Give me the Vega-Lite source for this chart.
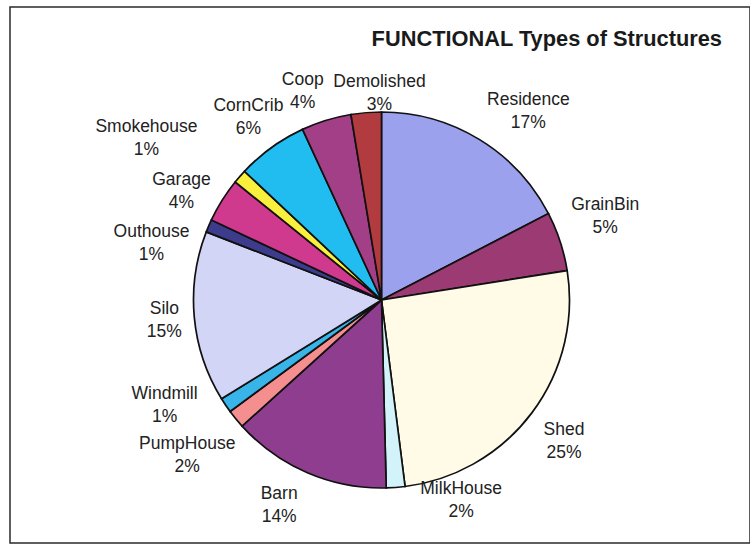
{
  "$schema": "https://vega.github.io/schema/vega-lite/v6.json",
  "width": 740,
  "height": 536,
  "autosize": "none",
  "padding": {"left": 10, "top": 7, "right": 0, "bottom": 2},
  "background": "white",
  "view": {"stroke": "#2a2a2a", "strokeWidth": 1.5, "fill": "white"},
  "config": {"view": {"stroke": "#2a2a2a", "strokeWidth": 1.5}, "font": "Liberation Sans"},
  "title": {
    "text": "FUNCTIONAL Types of Structures",
    "anchor": "end",
    "frame": "group",
    "orient": "top",
    "offset": -61,
    "dx": -28,
    "baseline": "alphabetic",
    "font": "Liberation Sans",
    "fontSize": 21.8,
    "fontWeight": "bold",
    "color": "#1a1a1a"
  },
  "data": {
    "values": [
      {"type": "Residence", "share": 17.4, "pct": "17%"},
      {"type": "GrainBin", "share": 5.1, "pct": "5%"},
      {"type": "Shed", "share": 25.5, "pct": "25%"},
      {"type": "MilkHouse", "share": 1.6, "pct": "2%"},
      {"type": "Barn", "share": 13.7, "pct": "14%"},
      {"type": "PumpHouse", "share": 1.6, "pct": "2%"},
      {"type": "Windmill", "share": 1.3, "pct": "1%"},
      {"type": "Silo", "share": 14.7, "pct": "15%"},
      {"type": "Outhouse", "share": 1.1, "pct": "1%"},
      {"type": "Garage", "share": 3.8, "pct": "4%"},
      {"type": "Smokehouse", "share": 1.2, "pct": "1%"},
      {"type": "CornCrib", "share": 6.1, "pct": "6%"},
      {"type": "Coop", "share": 4.3, "pct": "4%"},
      {"type": "Demolished", "share": 2.6, "pct": "3%"}
    ]
  },
  "transform": [
    {"stack": "share", "groupby": [], "as": ["s0", "s1"]},
    {"calculate": "(datum.s0 + datum.s1) / 2", "as": "mid"},
    {"calculate": "datum.type + '\\n' + datum.pct", "as": "label"}
  ],
  "layer": [
    {
      "mark": {"type": "arc", "outerRadius": 188, "stroke": "#111111", "strokeWidth": 1.7, "x": {"expr": "width/2 + 1.5"}, "y": {"expr": "height/2 + 25"}},
      "encoding": {
        "theta": {"field": "s0", "type": "quantitative", "stack": null, "scale": {"domain": [0, 100]}},
        "theta2": {"field": "s1"},
        "color": {
          "field": "type",
          "type": "nominal",
          "legend": null,
          "scale": {
            "domain": ["Residence", "GrainBin", "Shed", "MilkHouse", "Barn", "PumpHouse", "Windmill", "Silo", "Outhouse", "Garage", "Smokehouse", "CornCrib", "Coop", "Demolished"],
            "range": ["#9ba1ec", "#9b3a73", "#fffbe6", "#d2f3fa", "#8f3d8f", "#f58e8e", "#38b4e8", "#d3d5f7", "#3d3c8c", "#cf3a8e", "#f8f03c", "#22bdf0", "#a33f86", "#b23b3f"]
          }
        }
      }
    },
    {
      "transform": [{"filter": "datum.type === 'Residence'"}],
      "mark": {"type": "text", "fontSize": 17.5, "lineBreak": "\n", "lineHeight": 23, "dy": -10.5, "fill": "#222222", "x": {"expr": "width/2 + 1.5"}, "y": {"expr": "height/2 + 25"}, "radius": 240, "thetaOffset": 0.112},
      "encoding": {"theta": {"field": "mid", "type": "quantitative", "stack": null, "scale": {"domain": [0, 100]}}, "text": {"field": "label"}}
    },
    {
      "transform": [{"filter": "datum.type === 'GrainBin'"}],
      "mark": {"type": "text", "fontSize": 17.5, "lineBreak": "\n", "lineHeight": 23, "dy": -10.5, "fill": "#222222", "x": {"expr": "width/2 + 1.5"}, "y": {"expr": "height/2 + 25"}, "radius": 239, "thetaOffset": -0.042},
      "encoding": {"theta": {"field": "mid", "type": "quantitative", "stack": null, "scale": {"domain": [0, 100]}}, "text": {"field": "label"}}
    },
    {
      "transform": [{"filter": "datum.type === 'Shed' || datum.type === 'CornCrib'"}],
      "mark": {"type": "text", "fontSize": 17.5, "lineBreak": "\n", "lineHeight": 23, "dy": -8, "fill": "#222222", "x": {"expr": "width/2 + 1.5"}, "y": {"expr": "height/2 + 25"}, "radius": 229, "thetaOffset": 0.005},
      "encoding": {"theta": {"field": "mid", "type": "quantitative", "stack": null, "scale": {"domain": [0, 100]}}, "text": {"field": "label"}}
    },
    {
      "transform": [{"filter": "datum.type === 'MilkHouse'"}],
      "mark": {"type": "text", "fontSize": 17.5, "lineBreak": "\n", "lineHeight": 23, "dy": -10.5, "fill": "#222222", "x": {"expr": "width/2 + 1.5"}, "y": {"expr": "height/2 + 25"}, "radius": 215, "thetaOffset": -0.304},
      "encoding": {"theta": {"field": "mid", "type": "quantitative", "stack": null, "scale": {"domain": [0, 100]}}, "text": {"field": "label"}}
    },
    {
      "transform": [{"filter": "datum.type === 'Barn'"}],
      "mark": {"type": "text", "fontSize": 17.5, "lineBreak": "\n", "lineHeight": 23, "dy": -10.5, "fill": "#222222", "x": {"expr": "width/2 + 1.5"}, "y": {"expr": "height/2 + 25"}, "radius": 229, "thetaOffset": 0.058},
      "encoding": {"theta": {"field": "mid", "type": "quantitative", "stack": null, "scale": {"domain": [0, 100]}}, "text": {"field": "label"}}
    },
    {
      "transform": [{"filter": "datum.type === 'PumpHouse'"}],
      "mark": {"type": "text", "fontSize": 17.5, "lineBreak": "\n", "lineHeight": 23, "dy": -10.5, "fill": "#222222", "x": {"expr": "width/2 + 1.5"}, "y": {"expr": "height/2 + 25"}, "radius": 248, "thetaOffset": 0.014},
      "encoding": {"theta": {"field": "mid", "type": "quantitative", "stack": null, "scale": {"domain": [0, 100]}}, "text": {"field": "label"}}
    },
    {
      "transform": [{"filter": "datum.type === 'Windmill'"}],
      "mark": {"type": "text", "fontSize": 17.5, "lineBreak": "\n", "lineHeight": 23, "dy": -10.5, "fill": "#222222", "x": {"expr": "width/2 + 1.5"}, "y": {"expr": "height/2 + 25"}, "radius": 241, "thetaOffset": 0.143},
      "encoding": {"theta": {"field": "mid", "type": "quantitative", "stack": null, "scale": {"domain": [0, 100]}}, "text": {"field": "label"}}
    },
    {
      "transform": [{"filter": "datum.type === 'Silo'"}],
      "mark": {"type": "text", "fontSize": 17.5, "lineBreak": "\n", "lineHeight": 23, "dy": -10.5, "fill": "#222222", "x": {"expr": "width/2 + 1.5"}, "y": {"expr": "height/2 + 25"}, "radius": 218, "thetaOffset": 0.003},
      "encoding": {"theta": {"field": "mid", "type": "quantitative", "stack": null, "scale": {"domain": [0, 100]}}, "text": {"field": "label"}}
    },
    {
      "transform": [{"filter": "datum.type === 'Outhouse'"}],
      "mark": {"type": "text", "fontSize": 17.5, "lineBreak": "\n", "lineHeight": 23, "dy": -10.5, "fill": "#222222", "x": {"expr": "width/2 + 1.5"}, "y": {"expr": "height/2 + 25"}, "radius": 237, "thetaOffset": -0.162},
      "encoding": {"theta": {"field": "mid", "type": "quantitative", "stack": null, "scale": {"domain": [0, 100]}}, "text": {"field": "label"}}
    },
    {
      "transform": [{"filter": "datum.type === 'Garage'"}],
      "mark": {"type": "text", "fontSize": 17.5, "lineBreak": "\n", "lineHeight": 23, "dy": -10.5, "fill": "#222222", "x": {"expr": "width/2 + 1.5"}, "y": {"expr": "height/2 + 25"}, "radius": 228, "thetaOffset": -0.059},
      "encoding": {"theta": {"field": "mid", "type": "quantitative", "stack": null, "scale": {"domain": [0, 100]}}, "text": {"field": "label"}}
    },
    {
      "transform": [{"filter": "datum.type === 'Smokehouse'"}],
      "mark": {"type": "text", "fontSize": 17.5, "lineBreak": "\n", "lineHeight": 23, "dy": -10.5, "fill": "#222222", "x": {"expr": "width/2 + 1.5"}, "y": {"expr": "height/2 + 25"}, "radius": 286, "thetaOffset": -0.110},
      "encoding": {"theta": {"field": "mid", "type": "quantitative", "stack": null, "scale": {"domain": [0, 100]}}, "text": {"field": "label"}}
    },
    {
      "transform": [{"filter": "datum.type === 'Coop'"}],
      "mark": {"type": "text", "fontSize": 17.5, "lineBreak": "\n", "lineHeight": 23, "dy": -10.5, "fill": "#222222", "x": {"expr": "width/2 + 1.5"}, "y": {"expr": "height/2 + 25"}, "radius": 224, "thetaOffset": -0.061},
      "encoding": {"theta": {"field": "mid", "type": "quantitative", "stack": null, "scale": {"domain": [0, 100]}}, "text": {"field": "label"}}
    },
    {
      "transform": [{"filter": "datum.type === 'Demolished'"}],
      "mark": {"type": "text", "fontSize": 17.5, "lineBreak": "\n", "lineHeight": 23, "dy": -10.5, "fill": "#222222", "x": {"expr": "width/2 + 1.5"}, "y": {"expr": "height/2 + 25"}, "radius": 208, "thetaOffset": 0.072},
      "encoding": {"theta": {"field": "mid", "type": "quantitative", "stack": null, "scale": {"domain": [0, 100]}}, "text": {"field": "label"}}
    }
  ]
}
